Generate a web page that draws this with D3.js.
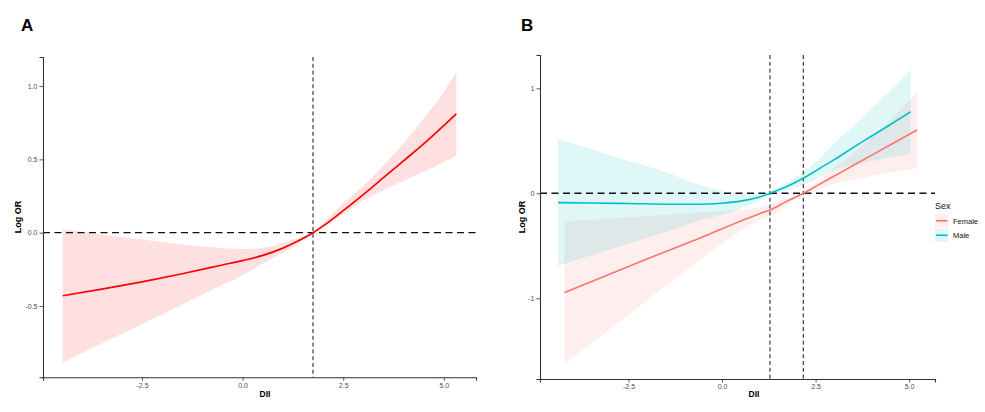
<!DOCTYPE html>
<html>
<head>
<meta charset="utf-8">
<script src="https://cdn.jsdelivr.net/npm/d3@7"></script>
<style>
  html, body { margin: 0; padding: 0; background: #fff; }
  svg { display: block; font-family: "Liberation Sans", Arial, sans-serif; }
</style>
</head>
<body>
<svg id="chart" width="985" height="412"></svg>
<script>
// ---------------- DATA ----------------
// Panel A: overall restricted cubic spline (DII vs Log OR)
const aDII   = [-4.47, -3.5, -2.5, -1.5, -0.5, 0.0, 0.5, 1.0, 1.35, 1.75, 2.1, 2.5, 3.0, 3.5, 4.0, 4.5, 5.0, 5.31];
const aFit   = [-0.43, -0.385, -0.335, -0.28, -0.22, -0.19, -0.155, -0.105, -0.06, 0.0, 0.065, 0.15, 0.26, 0.375, 0.49, 0.605, 0.73, 0.81];
const aLower = [-0.886, -0.755, -0.625, -0.49, -0.355, -0.29, -0.21, -0.135, -0.08, 0.0, 0.05, 0.125, 0.22, 0.29, 0.355, 0.415, 0.48, 0.525];
const aUpper = [0.025, -0.013, -0.046, -0.08, -0.105, -0.112, -0.103, -0.07, -0.04, 0.0, 0.09, 0.2, 0.32, 0.46, 0.61, 0.78, 0.96, 1.097];
const aRefDII = 1.75;

// Panel B: by sex
const sexGroups = ["Female", "Male"];
const femaleDII   = [-4.21, -3.5, -2.5, -1.5, -0.6, 0.0, 0.5, 1.0, 1.28, 1.7, 2.17, 2.6, 3.0, 3.5, 4.0, 4.5, 5.21];
const femaleFit   = [-0.946, -0.842, -0.698, -0.554, -0.428, -0.338, -0.265, -0.195, -0.159, -0.082, 0.0, 0.085, 0.165, 0.264, 0.363, 0.462, 0.603];
const femaleLower = [-1.626, -1.43, -1.155, -0.88, -0.635, -0.48, -0.36, -0.26, -0.222, -0.12, -0.01, 0.04, 0.09, 0.13, 0.165, 0.195, 0.238];
const femaleUpper = [-0.27, -0.252, -0.228, -0.204, -0.183, -0.168, -0.158, -0.13, -0.105, -0.055, 0.005, 0.12, 0.24, 0.38, 0.53, 0.7, 0.968];
const maleDII   = [-4.385, -3.5, -2.5, -1.5, -0.6, 0.0, 0.5, 1.0, 1.28, 1.7, 2.17, 2.6, 3.0, 3.5, 4.0, 4.5, 5.04];
const maleFit   = [-0.089, -0.093, -0.098, -0.104, -0.105, -0.095, -0.075, -0.035, 0.0, 0.06, 0.143, 0.235, 0.32, 0.435, 0.545, 0.655, 0.777];
const maleLower = [-0.692, -0.59, -0.48, -0.37, -0.26, -0.205, -0.145, -0.07, -0.016, 0.03, 0.079, 0.15, 0.222, 0.265, 0.305, 0.34, 0.38];
const maleUpper = [0.517, 0.42, 0.31, 0.2, 0.08, 0.02, -0.005, -0.012, 0.01, 0.09, 0.206, 0.33, 0.476, 0.64, 0.81, 0.98, 1.18];
const bRefDII = [1.28, 2.17];

// Tick labels
const xTickValues = [-2.5, 0.0, 2.5, 5.0];
const xTickLabels = ["-2.5", "0.0", "2.5", "5.0"];
const aYTickValues = [-0.5, 0.0, 0.5, 1.0];
const aYTickLabels = ["-0.5", "0.0", "0.5", "1.0"];
const bYTickValues = [-1, 0, 1];
const bYTickLabels = ["-1", "0", "1"];

// ---------------- STYLE ----------------
const colA = "#FF0000";
const colFemale = "#F8766D";
const colMale = "#00BFC4";
const axisCol = "#333333";
const tickTextCol = "#4D4D4D";

const svg = d3.select("#chart");

function zip(x, f, lo, hi) {
  return x.map((d, i) => ({ x: d, fit: f[i], lo: lo[i], hi: hi[i] }));
}

function drawAxes(g, xs, ys, yVals, yLabs) {
  const xAxis = d3.axisBottom(xs).tickValues(xTickValues)
    .tickFormat((d, i) => xTickLabels[i]).tickSizeOuter(0).tickSize(3.5).tickPadding(2);
  const yAxis = d3.axisLeft(ys).tickValues(yVals)
    .tickFormat((d, i) => yLabs[i]).tickSizeOuter(0).tickSize(3.5).tickPadding(2);
  const gx = g.append("g").attr("transform", `translate(0,${ys.range()[0]})`).call(xAxis);
  const gy = g.append("g").attr("transform", `translate(${xs.range()[0]},0)`).call(yAxis);
  [gx, gy].forEach(a => {
    a.select(".domain").attr("stroke", axisCol).attr("stroke-width", 1.1);
    a.selectAll(".tick line").attr("stroke", axisCol).attr("stroke-width", 0.8);
    a.selectAll(".tick text").attr("fill", tickTextCol).style("font-size", "7px")
      .style("font-family", "'Liberation Sans', Arial, sans-serif");
  });
}

function refLines(g, xs, ys, vx) {
  g.append("line")
    .attr("x1", xs.range()[0]).attr("x2", xs.range()[1])
    .attr("y1", ys(0)).attr("y2", ys(0))
    .attr("stroke", "#111").attr("stroke-width", 1.3).attr("stroke-dasharray", "7,4.5");
  vx.forEach(v => {
    g.append("line")
      .attr("x1", xs(v)).attr("x2", xs(v))
      .attr("y1", ys.range()[1]).attr("y2", ys.range()[0])
      .attr("stroke", "#111").attr("stroke-width", 1).attr("stroke-dasharray", "4,2.8");
  });
}

// ---------------- PANEL A ----------------
{
  const xs = d3.scaleLinear().domain([-4.96, 5.80]).range([43, 476]);
  const ys = d3.scaleLinear().domain([-0.986, 1.198]).range([377.3, 57]);
  const g = svg.append("g");
  const data = zip(aDII, aFit, aLower, aUpper);
  const area = d3.area().x(d => xs(d.x)).y0(d => ys(d.lo)).y1(d => ys(d.hi)).curve(d3.curveMonotoneX);
  const line = d3.line().x(d => xs(d.x)).y(d => ys(d.fit)).curve(d3.curveMonotoneX);
  g.append("path").datum(data).attr("d", area).attr("fill", colA).attr("fill-opacity", 0.12);
  refLines(g, xs, ys, [aRefDII]);
  g.append("path").datum(data).attr("d", line).attr("fill", "none")
    .attr("stroke", colA).attr("stroke-width", 1.7);
  drawAxes(g, xs, ys, aYTickValues, aYTickLabels);
  g.append("text").attr("x", 265).attr("y", 397).attr("text-anchor", "middle")
    .style("font-size", "8.5px").style("font-weight", "bold").text("DII");
  g.append("text").attr("transform", "translate(21,217) rotate(-90)").attr("text-anchor", "middle")
    .style("font-size", "9px").style("font-weight", "bold").text("Log OR");
  svg.append("text").attr("x", 21).attr("y", 31).style("font-size", "17px")
    .style("font-weight", "bold").text("A");
}

// ---------------- PANEL B ----------------
{
  const xs = d3.scaleLinear().domain([-4.865, 5.69]).range([540, 935]);
  const ys = d3.scaleLinear().domain([-1.769, 1.317]).range([379, 55]);
  const g = svg.append("g");
  const groups = [
    { name: "Female", col: colFemale, data: zip(femaleDII, femaleFit, femaleLower, femaleUpper) },
    { name: "Male", col: colMale, data: zip(maleDII, maleFit, maleLower, maleUpper) }
  ];
  const area = d3.area().x(d => xs(d.x)).y0(d => ys(d.lo)).y1(d => ys(d.hi)).curve(d3.curveMonotoneX);
  const line = d3.line().x(d => xs(d.x)).y(d => ys(d.fit)).curve(d3.curveMonotoneX);
  groups.forEach(gr => {
    g.append("path").datum(gr.data).attr("d", area).attr("fill", gr.col).attr("fill-opacity", 0.12);
  });
  refLines(g, xs, ys, bRefDII);
  groups.forEach(gr => {
    g.append("path").datum(gr.data).attr("d", line).attr("fill", "none")
      .attr("stroke", gr.col).attr("stroke-width", 1.6);
  });
  drawAxes(g, xs, ys, bYTickValues, bYTickLabels);
  g.append("text").attr("x", 754).attr("y", 397).attr("text-anchor", "middle")
    .style("font-size", "8.5px").style("font-weight", "bold").text("DII");
  g.append("text").attr("transform", "translate(525,217) rotate(-90)").attr("text-anchor", "middle")
    .style("font-size", "9px").style("font-weight", "bold").text("Log OR");
  svg.append("text").attr("x", 521).attr("y", 31).style("font-size", "17px")
    .style("font-weight", "bold").text("B");

  // Legend
  const lg = svg.append("g");
  lg.append("text").attr("x", 935).attr("y", 209).style("font-size", "9px").attr("fill", "#111").text("Sex");
  sexGroups.forEach((name, i) => {
    const gr = groups.find(d => d.name === name);
    const y0 = 214 + i * 14.5;
    lg.append("rect").attr("x", 935).attr("y", y0).attr("width", 13.5).attr("height", 13.5)
      .attr("fill", gr.col).attr("fill-opacity", 0.12);
    lg.append("line").attr("x1", 936).attr("x2", 947.5).attr("y1", y0 + 6.75).attr("y2", y0 + 6.75)
      .attr("stroke", gr.col).attr("stroke-width", 1.6);
    lg.append("text").attr("x", 953).attr("y", y0 + 9.5).style("font-size", "7.5px").attr("fill", "#111").text(name);
  });
}
</script>
</body>
</html>
